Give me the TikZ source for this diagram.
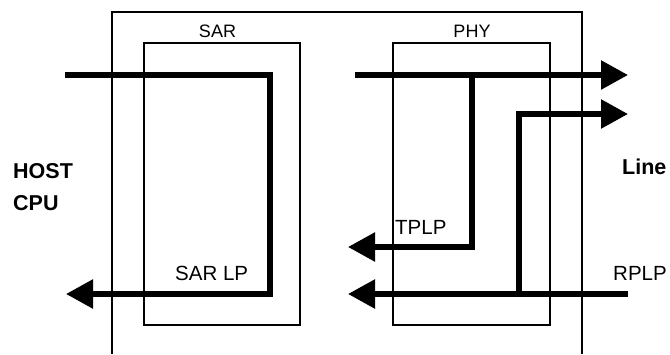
\documentclass[tikz,border=0pt]{standalone}
\usepackage{fontspec}
\setmainfont{Liberation Sans}
\usetikzlibrary{arrows.meta}
\begin{document}
\begin{tikzpicture}[x=1pt,y=-1pt,
  box/.style={draw=black,line width=1.3pt},
  flow/.style={draw=black,line width=5.5pt,line join=miter,line cap=butt},
  arr/.style={flow,-{Triangle[length=27pt,width=28pt]}},
  lbl/.style={inner sep=0pt,font=\fontsize{20.5}{24}\selectfont},
  toplbl/.style={inner sep=0pt,font=\fontsize{18}{22}\selectfont},
  blbl/.style={inner sep=0pt,font=\fontsize{21.5}{24}\selectfont\bfseries,align=left}]
\useasboundingbox (0,0) rectangle (670,354);
% outer (open at bottom)
\coordinate (o1) at (112,354);
\coordinate (o2) at (112,12);
\coordinate (o3) at (582,12);
\coordinate (o4) at (582,354);
\draw[box] (o1) -- (o2) -- (o3) -- (o4);
% SAR and PHY boxes
\node[box,minimum width=156pt,minimum height=282pt,inner sep=0pt] (sar) at (222,184) {};
\node[box,minimum width=157pt,minimum height=282pt,inner sep=0pt] (phy) at (471.5,184) {};
% labels
\node[toplbl,anchor=base] (sarl) at (217.5,37) {SAR};
\node[toplbl,anchor=base] (phyl) at (472,37) {PHY};
\node[blbl,anchor=base west] (host) at (13,178) {HOST};
\node[blbl,anchor=base west] (cpu) at (13,210) {CPU};
\node[blbl,anchor=base west] (line) at (622,174) {Line};
\node[lbl,anchor=base west] (tplp) at (395,234) {TPLP};
\node[lbl,anchor=base west] (sarlp) at (175,280) {SAR LP};
\node[lbl,anchor=base west] (rplp) at (613,280) {RPLP};
% SAR loop path
\coordinate (s0) at (65,75);
\coordinate (s1) at (270,75);
\coordinate (s2) at (270,294);
\coordinate (s3) at (66,294);
\draw[arr] (s0) -- (s1) -- (s2) -- (s3);
% PHY transmit
\coordinate (t0) at (355,75);
\coordinate (t1) at (628,75);
\draw[arr] (t0) -- (t1);
\coordinate (tb) at (472,75);
\coordinate (tc) at (472,247);
\coordinate (td) at (348,247);
\draw[arr] (tb) -- (tc) -- (td);
% PHY receive
\coordinate (r0) at (628,294);
\coordinate (r1) at (348,294);
\draw[arr] (r0) -- (r1);
\coordinate (rb) at (519,294);
\coordinate (rc) at (519,114);
\coordinate (rd) at (628,114);
\draw[arr] (rb) -- (rc) -- (rd);
\end{tikzpicture}
\end{document}
